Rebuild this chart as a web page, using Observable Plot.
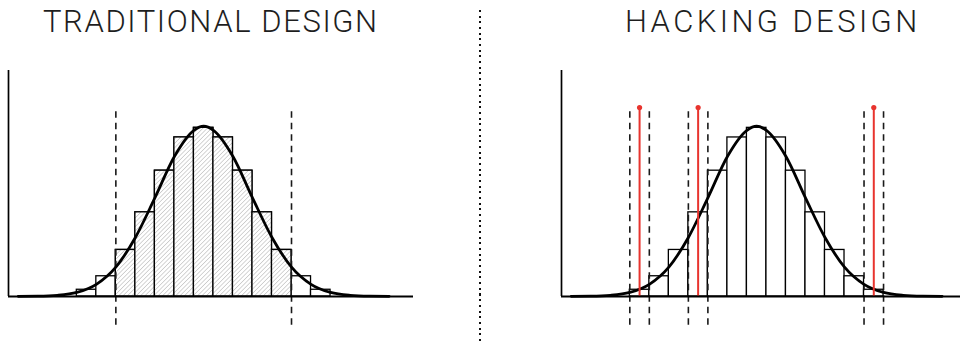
<!DOCTYPE html>
<html>
<head>
<meta charset="utf-8">
<script src="https://cdn.jsdelivr.net/npm/d3@7"></script>
<script src="https://cdn.jsdelivr.net/npm/@observablehq/plot@0.6"></script>
<style>
  html, body { margin: 0; padding: 0; background: #fff; }
  #wrap { position: relative; width: 960px; height: 342px; overflow: hidden; background: #fff; }
  .title { position: absolute; top: 3px; font-family: Roboto, "Open Sans", sans-serif; font-weight: 300;
           font-size: 31px; letter-spacing: 1.6px; color: #1e1e1e; white-space: nowrap; }
  #divider { position: absolute; left: 479px; top: 10px; width: 2px; height: 331px;
             background: repeating-linear-gradient(to bottom, #111 0 2px, transparent 2px 5.67px); }
  .panel { position: absolute; top: 50px; width: 420px; height: 290px; }
  .panel svg { max-width: none !important; width: 420px; height: 290px; display: block; }
</style>
</head>
<body>
<div id="wrap">
  <div class="title" id="t1" style="left:43px">TRADITIONAL DESIGN</div>
  <div class="title" id="t2" style="left:625px; letter-spacing:3.4px">HACKING DESIGN</div>
  <div id="divider"></div>
  <div class="panel" id="p1" style="left:0px"></div>
  <div class="panel" id="p2" style="left:553px"></div>
</div>
<script>
// ---- data ----
const titles = ["TRADITIONAL DESIGN", "HACKING DESIGN"];
const bins = [-6, -5, -4, -3, -2, -1, 0, 1, 2, 3, 4, 5, 6];           // bin centres
const counts = [4.0, 12.0, 27.6, 49.9, 74.6, 94.3, 100, 94.3, 74.6, 49.9, 27.6, 12.0, 4.0];
const curveX = [-9.5, -8.5, -7.5, -6.5, -5.5, -4.5, -3.5, -2.5, -1.5, -0.5, 0,
                 0.5, 1.5, 2.5, 3.5, 4.5, 5.5, 6.5, 7.5, 8.5, 9.5];
const curveY = [0.1, 0.2, 0.7, 2.4, 7.2, 17.4, 35, 58.5, 83, 98.5, 101,
                98.5, 83, 58.5, 35, 17.4, 7.2, 2.4, 0.7, 0.2, 0.1];
const traditionalCuts = [-4.5, 4.5];    // fixed critical values
const hackPicks = [-6, -3, 6];          // chosen outcomes in hacking design
const xDomain = [-10, 10.75];
const yDomain = [0, 134];
const cutRange = [-17, 112];            // vertical extent of cut lines

document.getElementById("t1").textContent = titles[0];
document.getElementById("t2").textContent = titles[1];

const hist = bins.map((b, i) => ({x: b, n: counts[i]}));
const curve = curveX.map((x, i) => ({x, y: curveY[i]}));

function base(marks) {
  return Plot.plot({
    width: 420, height: 290,
    marginLeft: 8, marginRight: 7, marginTop: 20, marginBottom: 44,
    x: {domain: xDomain, axis: null},
    y: {domain: yDomain, axis: null},
    style: {background: "transparent", overflow: "visible"},
    marks: [
      ...marks,
      Plot.ruleX([xDomain[0]], {y1: yDomain[0], y2: yDomain[1], stroke: "#000", strokeWidth: 1.7}),
      Plot.ruleY([0], {x1: xDomain[0], x2: xDomain[1], stroke: "#000", strokeWidth: 1.8})
    ]
  });
}

function addHatch(svg) {
  const ns = "http://www.w3.org/2000/svg";
  const defs = document.createElementNS(ns, "defs");
  defs.innerHTML = '<pattern id="hatch" patternUnits="userSpaceOnUse" width="3.1" height="3.1" patternTransform="rotate(45)">' +
    '<rect width="3.1" height="3.1" fill="#fff"/><line x1="0" y1="0" x2="0" y2="3.1" stroke="#ababab" stroke-width="1"/></pattern>';
  svg.insertBefore(defs, svg.firstChild);
}

const dash = {stroke: "#1a1a1a", strokeWidth: 1.6, strokeDasharray: "6.5,5"};

// Left panel
const inside = d => d.x - 0.5 >= traditionalCuts[0] && d.x + 0.5 <= traditionalCuts[1];
const left = base([
  Plot.rectY(hist, {x1: d => d.x - 0.5, x2: d => d.x + 0.5, y: "n", fill: "#fff", stroke: "#000", strokeWidth: 1.3}),
  Plot.rectY(hist.filter(inside), {x1: d => d.x - 0.5, x2: d => d.x + 0.5, y: "n", fill: "url(#hatch)", stroke: "#000", strokeWidth: 1.3}),
  Plot.ruleX(traditionalCuts, {y1: cutRange[0], y2: cutRange[1], ...dash}),
  Plot.line(curve, {x: "x", y: "y", stroke: "#000", strokeWidth: 2.8, curve: "monotone-x"})
]);
addHatch(left);
document.getElementById("p1").appendChild(left);

// Right panel
const hackCuts = hackPicks.flatMap(p => [p - 0.5, p + 0.5]);
const right = base([
  Plot.rectY(hist, {x1: d => d.x - 0.5, x2: d => d.x + 0.5, y: "n", fill: "#fff", stroke: "#000", strokeWidth: 1.3}),
  Plot.ruleX(hackCuts, {y1: cutRange[0], y2: cutRange[1], ...dash}),
  Plot.line(curve, {x: "x", y: "y", stroke: "#000", strokeWidth: 2.8, curve: "monotone-x"}),
  Plot.ruleX(hackPicks, {y1: 0, y2: cutRange[1], stroke: "#e8342e", strokeWidth: 2}),
  Plot.dot(hackPicks, {x: d => d, y: cutRange[1], r: 2.6, fill: "#e8342e", stroke: "none"})
]);
document.getElementById("p2").appendChild(right);
</script>
</body>
</html>
